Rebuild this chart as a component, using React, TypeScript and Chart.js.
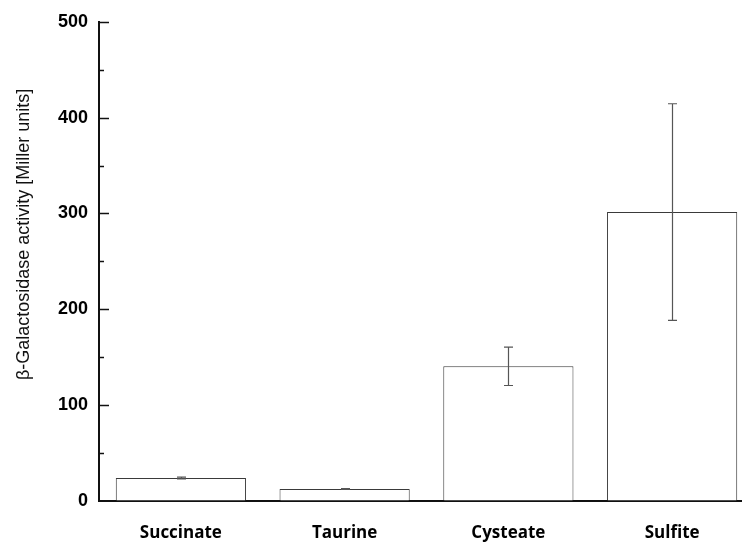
import { useEffect, useRef } from "react";
import { Chart, registerables } from "chart.js";

Chart.register(...registerables);

// Substrates tested and the measured reporter activity
const categories = ["Succinate", "Taurine", "Cysteate", "Sulfite"];
const activity = [24, 12.5, 140.5, 301.5];
const activityError = [1, 0.5, 20, 113];

// Value axis
const yMin = 0;
const yMax = 500;
const yMajorStep = 100;
const yTitle = "β-Galactosidase activity [Miller units]";

const AXIS_COLOR = "#111111";
const BAR_EDGE = "#3a3a3a";
const ERROR_COLOR = "#555555";

// Inward major/minor tick marks on the value axis
const innerTicksPlugin = {
  id: "innerTicks",
  afterDraw(chart: any) {
    const y = chart.scales.y;
    const { ctx, chartArea } = chart;
    ctx.save();
    ctx.strokeStyle = AXIS_COLOR;
    ctx.lineWidth = 1.5;
    const half = yMajorStep / 2;
    for (let v = yMin + half; v <= yMax; v += half) {
      const isMajor = Math.abs(v % yMajorStep) < 1e-9;
      const len = isMajor ? 10 : 5;
      const py = Math.round(y.getPixelForValue(v)) + 0.5;
      ctx.beginPath();
      ctx.moveTo(chartArea.left, py);
      ctx.lineTo(chartArea.left + len, py);
      ctx.stroke();
    }
    ctx.restore();
  },
};

// Error bars with small caps, drawn from the dataset values
const errorBarsPlugin = {
  id: "errorBars",
  afterDatasetsDraw(chart: any) {
    const { ctx } = chart;
    const y = chart.scales.y;
    const meta = chart.getDatasetMeta(0);
    ctx.save();
    ctx.strokeStyle = ERROR_COLOR;
    ctx.lineWidth = 1.2;
    meta.data.forEach((bar: any, i: number) => {
      const x = Math.round(bar.x) + 0.5;
      const hi = y.getPixelForValue(activity[i] + activityError[i]);
      const lo = y.getPixelForValue(activity[i] - activityError[i]);
      const cap = 4.5;
      ctx.beginPath();
      ctx.moveTo(x, hi);
      ctx.lineTo(x, lo);
      ctx.moveTo(x - cap, hi);
      ctx.lineTo(x + cap, hi);
      ctx.moveTo(x - cap, lo);
      ctx.lineTo(x + cap, lo);
      ctx.stroke();
    });
    ctx.restore();
  },
};

// Rotated value-axis title
const yTitlePlugin = {
  id: "yTitle",
  afterDraw(chart: any) {
    const { ctx, chartArea } = chart;
    ctx.save();
    ctx.translate(24, (chartArea.top + chartArea.bottom) / 2 - 27);
    ctx.rotate(-Math.PI / 2);
    ctx.fillStyle = "#111111";
    ctx.font = "18px 'Liberation Sans', Arial, sans-serif";
    ctx.textAlign = "center";
    ctx.textBaseline = "middle";
    ctx.fillText(yTitle, 0, 0);
    ctx.restore();
  },
};

export default function App() {
  const canvasRef = useRef<HTMLCanvasElement | null>(null);

  useEffect(() => {
    if (!canvasRef.current) return;
    const chart = new Chart(canvasRef.current, {
      type: "bar",
      data: {
        labels: categories,
        datasets: [
          {
            data: activity,
            backgroundColor: "#ffffff",
            borderColor: BAR_EDGE,
            borderWidth: 1,
            categoryPercentage: 1,
            barPercentage: 0.795,
          },
        ],
      },
      options: {
        responsive: false,
        animation: false,
        devicePixelRatio: 1,
        layout: { padding: { top: 20, right: 0, bottom: 0, left: 0 } },
        plugins: {
          legend: { display: false },
          tooltip: { enabled: false },
          title: { display: false },
        },
        scales: {
          x: {
            offset: true,
            grid: { drawOnChartArea: false, drawTicks: false },
            border: { display: true, color: AXIS_COLOR, width: 2 },
            ticks: {
              padding: 22,
              color: "#000000",
              font: { family: "'Open Sans', sans-serif", size: 17, weight: "700" },
              maxRotation: 0,
            },
            afterFit(scale: any) {
              scale.height = 41;
            },
          },
          y: {
            min: yMin,
            max: yMax,
            grid: { drawOnChartArea: false, drawTicks: false },
            border: { display: true, color: AXIS_COLOR, width: 2 },
            ticks: {
              stepSize: yMajorStep,
              padding: 11,
              color: "#000000",
              font: { family: "'Liberation Sans', Arial, sans-serif", size: 18, weight: "bold" },
            },
            afterFit(scale: any) {
              scale.width = 99;
            },
          },
        },
      },
      plugins: [innerTicksPlugin, errorBarsPlugin, yTitlePlugin],
    });
    return () => chart.destroy();
  }, []);

  return (
    <div
      style={{
        position: "absolute",
        left: 0,
        top: 0,
        width: 742,
        height: 542,
        overflow: "hidden",
        background: "#ffffff",
      }}
    >
      <canvas
        ref={canvasRef}
        width={754}
        height={542}
        style={{ display: "block", width: 754, height: 542 }}
      />
    </div>
  );
}
